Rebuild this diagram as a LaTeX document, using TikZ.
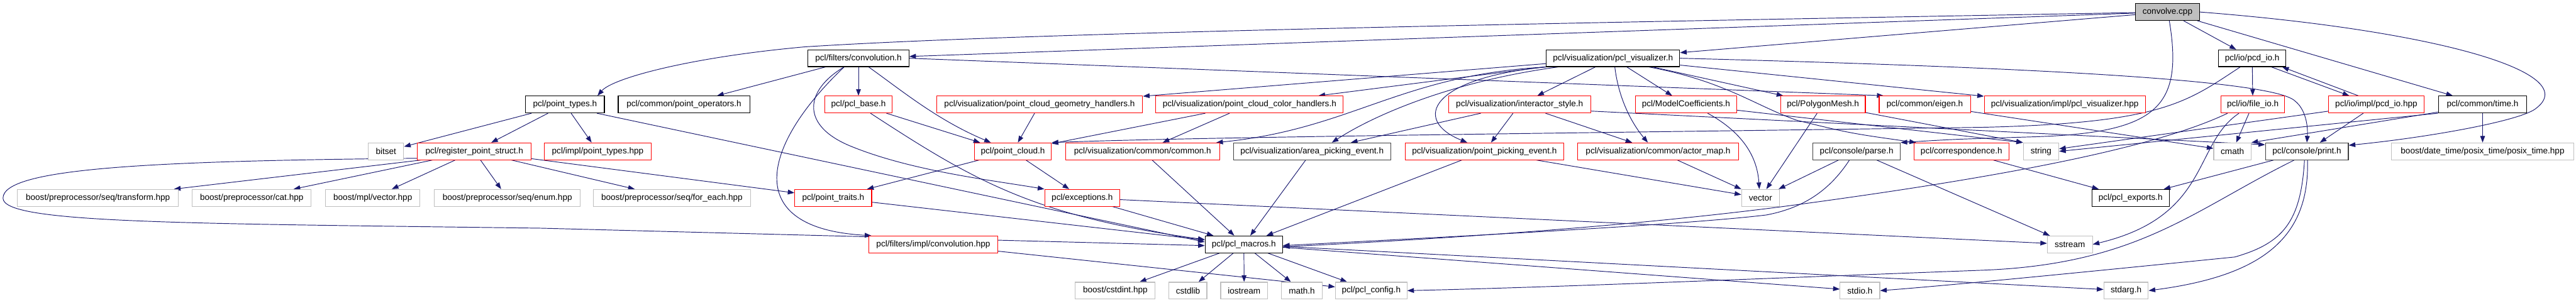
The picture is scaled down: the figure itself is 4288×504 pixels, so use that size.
\documentclass[tikz,border=0pt]{standalone}
\usepackage{fontspec}
\setmainfont{Liberation Sans}
\usetikzlibrary{arrows.meta, backgrounds}

\definecolor{edgeblue}{HTML}{191970}
\definecolor{extgray}{HTML}{BFBFBF}

\begin{document}
\begin{tikzpicture}[
    x=1pt, y=-1pt,
    hdr/.style={rectangle, draw, fill=white, line width=1.2pt, inner sep=0pt, minimum height=28pt, font=\fontsize{14.2pt}{16pt}\selectfont},
    mainhdr/.style={hdr, draw=black, fill=extgray},
    dochdr/.style={hdr, draw=black},
    greyhdr/.style={hdr, draw=black!75},
    cuthdr/.style={hdr, draw=red},
    exthdr/.style={hdr, draw=extgray},
    dep/.style={draw=edgeblue, line width=1pt, -{Triangle[length=11pt, width=8pt]}}
]
\useasboundingbox (0,0) rectangle (4288,504);

% Top
\node[mainhdr, minimum width=106pt] (cpp) at (3608,20) {convolve.cpp};

% Row 1
\node[dochdr, minimum width=168pt] (conv) at (1429,97) {pcl/filters/convolution.h};
\node[dochdr, minimum width=222pt] (viz) at (2685,97) {pcl/visualization/pcl\_visualizer.h};
\node[dochdr, minimum width=112pt] (pcdio) at (3749,97) {pcl/io/pcd\_io.h};

% Row 2
\node[dochdr, minimum width=131pt] (ptypes) at (940.5,174) {pcl/point\_types.h};
\node[dochdr, minimum width=219pt] (ptops) at (1138.5,174) {pcl/common/point\_operators.h};
\node[cuthdr, minimum width=112pt] (base) at (1429,174) {pcl/pcl\_base.h};
\node[cuthdr, minimum width=343pt] (geom) at (1730.5,174) {pcl/visualization/point\_cloud\_geometry\_handlers.h};
\node[cuthdr, minimum width=312pt] (color) at (2080,174) {pcl/visualization/point\_cloud\_color\_handlers.h};
\node[cuthdr, minimum width=237pt] (istyle) at (2529.5,174) {pcl/visualization/interactor\_style.h};
\node[cuthdr, minimum width=169pt] (mcoef) at (2806.5,174) {pcl/ModelCoefficients.h};
\node[cuthdr, minimum width=141pt] (pmesh) at (3034.5,174) {pcl/PolygonMesh.h};
\node[cuthdr, minimum width=152pt] (eigen) at (3204,174) {pcl/common/eigen.h};
\node[cuthdr, minimum width=268pt] (vizhpp) at (3437,174) {pcl/visualization/impl/pcl\_visualizer.hpp};
\node[cuthdr, minimum width=106pt] (fileio) at (3750,174) {pcl/io/file\_io.h};
\node[cuthdr, minimum width=159pt] (pcdhpp) at (3955.5,174) {pcl/io/impl/pcd\_io.hpp};
\node[dochdr, minimum width=147pt] (timeh) at (4132.5,174) {pcl/common/time.h};

% Row 3
\node[exthdr, minimum width=59pt] (bitset) at (642.5,252) {bitset};
\node[cuthdr, minimum width=189pt] (regps) at (789.5,252) {pcl/register\_point\_struct.h};
\node[cuthdr, minimum width=178pt] (iptypes) at (995,252) {pcl/impl/point\_types.hpp};
\node[cuthdr, minimum width=128pt] (pcloud) at (1686,252) {pcl/point\_cloud.h};
\node[cuthdr, minimum width=256pt] (common) at (1902,252) {pcl/visualization/common/common.h};
\node[greyhdr, minimum width=262pt] (apick) at (2184,252) {pcl/visualization/area\_picking\_event.h};
\node[cuthdr, minimum width=264pt] (ppick) at (2471,252) {pcl/visualization/point\_picking\_event.h};
\node[cuthdr, minimum width=268pt] (amap) at (2760,252) {pcl/visualization/common/actor\_map.h};
\node[greyhdr, minimum width=145pt] (parse) at (3090.5,252) {pcl/console/parse.h};
\node[cuthdr, minimum width=158pt] (corr) at (3265,252) {pcl/correspondence.h};
\node[exthdr, minimum width=59pt] (string) at (3397.5,252) {string};
\node[exthdr, minimum width=62pt] (cmath) at (3716,252) {cmath};
\node[greyhdr, minimum width=138pt] (print) at (3840,252) {pcl/console/print.h};
\node[exthdr, minimum width=303pt] (posix) at (4132.5,252) {boost/date\_time/posix\_time/posix\_time.hpp};

% Row 4
\node[exthdr, minimum width=268pt] (transform) at (163,329.5) {boost/preprocessor/seq/transform.hpp};
\node[exthdr, minimum width=198pt] (cat) at (419,329.5) {boost/preprocessor/cat.hpp};
\node[exthdr, minimum width=157pt] (mplvec) at (620.5,329.5) {boost/mpl/vector.hpp};
\node[exthdr, minimum width=243pt] (penum) at (844.5,329.5) {boost/preprocessor/seq/enum.hpp};
\node[exthdr, minimum width=261pt] (foreach) at (1118.5,329.5) {boost/preprocessor/seq/for\_each.hpp};
\node[cuthdr, minimum width=128pt] (ptraits) at (1387,329.5) {pcl/point\_traits.h};
\node[cuthdr, minimum width=125pt] (except) at (1801.5,329.5) {pcl/exceptions.h};
\node[exthdr, minimum width=63pt] (vector) at (2930.5,329.5) {vector};
\node[dochdr, minimum width=129pt] (exports) at (3546.5,329.5) {pcl/pcl\_exports.h};

% Row 5
\node[cuthdr, minimum width=215pt] (convhpp) at (1553.5,407) {pcl/filters/impl/convolution.hpp};
\node[dochdr, minimum width=129pt] (macros) at (2070.5,407) {pcl/pcl\_macros.h};
\node[exthdr, minimum width=75pt] (sstream) at (3445.5,407) {sstream};

% Row 6
\node[exthdr, minimum width=133pt] (cstdint) at (1856.5,484) {boost/cstdint.hpp};
\node[exthdr, minimum width=63pt] (cstdlib) at (1977.5,484) {cstdlib};
\node[exthdr, minimum width=78pt] (iostream) at (2071,484) {iostream};
\node[exthdr, minimum width=68pt] (mathh) at (2167,484) {math.h};
\node[exthdr, minimum width=119pt] (config) at (2282.5,484) {pcl/pcl\_config.h};
\node[exthdr, minimum width=66pt] (stdio) at (3096,484) {stdio.h};
\node[exthdr, minimum width=74pt] (stdarg) at (3539,484) {stdarg.h};

\begin{scope}[on background layer]
\fill[white] (0,0) rectangle (4288,504);

% convolve.cpp
\draw[dep] (cpp) -- (conv);
\draw[dep] (cpp) -- (viz);
\draw[dep] (cpp) .. controls (2500,40) and (1700,55) .. (1340,78) .. controls (1150,95) and (1020,130) .. ([xshift=-12pt]ptypes.north east);
\draw[dep] ([xshift=3pt]cpp.south) .. controls (3635,180) and (3590,222) .. (3380,228) .. controls (3250,232) .. (parse.north east);
\draw[dep] (cpp) -- (pcdio);
\draw[dep] (cpp) -- (timeh);
\draw[dep] (cpp.east) .. controls (4050,50) and (4300,120) .. (4222,180) .. controls (4200,200) and (4050,228) .. ([yshift=10pt]print.east);

% convolution.h
\draw[dep] (conv) -- (ptops);
\draw[dep] (conv) -- (base);
\draw[dep] ([xshift=17pt]conv.south) .. controls (1500,150) and (1560,200) .. ([xshift=28pt]pcloud.north west);
\draw[dep] ([xshift=-24pt]conv.south) .. controls (1340,150) and (1330,210) .. (1420,245) .. controls (1520,285) and (1650,300) .. (except.north west);
\draw[dep] ([xshift=-24pt]conv.south) .. controls (1270,240) and (1230,380) .. ([xshift=5pt]convhpp.north west);
\draw[dep] (conv.east) -- ([xshift=8pt]eigen.north west);

% point_types.h
\draw[dep] (ptypes) -- (bitset);
\draw[dep] (ptypes) -- (regps);
\draw[dep] (ptypes) -- (iptypes);
\draw[dep] ([xshift=-13pt]ptypes.south east) -- ([yshift=4pt]macros.west);

% register_point_struct.h
\draw[dep] ([xshift=6pt]regps.south west) -- ([xshift=-8pt]transform.north east);
\draw[dep] (regps) -- (cat);
\draw[dep] (regps) -- (mplvec);
\draw[dep] (regps) -- (penum);
\draw[dep] (regps) -- (foreach);
\draw[dep] (regps) -- (ptraits);
\draw[dep] ([yshift=3pt]regps.south west) .. controls (250,268) and (5,280) .. (5,330) .. controls (5,372) and (300,372) .. (900,380) -- ([yshift=-2pt]macros.west);

% pcl_base.h, point_cloud.h and below
\draw[dep] (base) -- ([xshift=10pt]pcloud.north west);
\draw[dep] ([xshift=20pt]base.south) .. controls (1620,300) and (1720,360) .. ([yshift=8pt]macros.west);
\draw[dep] (pcloud) -- (except);
\draw[dep] (pcloud) -- (ptraits);
\draw[dep] (ptraits) -- (macros);
\draw[dep] (convhpp) -- (config);
\draw[dep] (except) -- (macros);
\draw[dep] (except) -- (sstream);
\draw[dep] (common) -- (macros);
\draw[dep] (geom) -- (pcloud);
\draw[dep] (color) -- (pcloud);
\draw[dep] (color) -- (common);

% pcl_visualizer.h
\draw[dep] (viz) -- (geom);
\draw[dep] (viz) -- (color);
\draw[dep] (viz.south west) .. controls (2330,125) and (2250,215) .. ([xshift=-6pt]common.north east);
\draw[dep] ([xshift=20pt]viz.south west) .. controls (2420,135) and (2290,190) .. ([xshift=33pt]apick.north);
\draw[dep] (viz.south west) .. controls (2380,130) and (2350,200) .. ([xshift=104pt]ppick.north west);
\draw[dep] (viz) -- (istyle);
\draw[dep] (viz) -- (mcoef);
\draw[dep] ([xshift=3pt]viz.south) .. controls (2695,170) and (2720,210) .. ([xshift=-17pt]amap.north);
\draw[dep] (viz) -- (pmesh);
\draw[dep] ([xshift=60pt]viz.south) .. controls (2870,135) and (2920,175) .. (2990,200) .. controls (3080,222) .. ([xshift=4pt]corr.north west);
\draw[dep] (viz) -- (vizhpp);
\draw[dep] (viz.east) .. controls (3300,110) and (3780,130) .. (3820,168) .. controls (3838,182) and (3842,210) .. (print.north);

% interactor_style.h
\draw[dep] (istyle) -- (apick);
\draw[dep] (istyle) -- (ppick);
\draw[dep] (istyle) -- (amap);
\draw[dep] ([yshift=-11pt]istyle.east) -- ([yshift=11pt]print.west);

% row 2 and row 3 headers
\draw[dep] ([xshift=36pt]mcoef.south) .. controls (2900,220) and (2925,260) .. ([xshift=-2pt]vector.north);
\draw[dep] (mcoef) -- (string.north west);
\draw[dep] (pmesh) -- (vector);
\draw[dep] (pmesh) -- (string.north west);
\draw[dep] (eigen) -- (cmath);
\draw[dep] (amap) -- (vector);
\draw[dep] (ppick) -- (vector);
\draw[dep] (ppick) -- (macros);
\draw[dep] (apick) -- (macros);

% parse.h, correspondence.h
\draw[dep] (parse) -- (vector);
\draw[dep] ([xshift=-12pt]parse.south) .. controls (3050,310) and (3010,345) .. (2940,358) .. controls (2800,375) and (2400,395) .. ([yshift=-2pt]macros.east);
\draw[dep] (parse) -- (sstream);
\draw[dep] (corr) -- (exports);

% file_io.h
\draw[dep] (fileio) -- (cmath);
\draw[dep] ([xshift=-23pt]fileio.south) .. controls (3650,240) and (3680,360) .. (sstream.east);
\draw[dep] ([xshift=-42pt]fileio.south) .. controls (3580,250) and (3300,300) .. (2960,345) .. controls (2700,378) and (2400,398) .. ([yshift=-4pt]macros.east);

% pcd_io.h, pcd_io.hpp
\draw[dep] (pcdio) -- (fileio);
\draw[dep] ([xshift=32pt]pcdio.south) -- ([xshift=-45pt]pcdhpp.north);
\draw[dep] ([xshift=-20pt]pcdio.south) .. controls (3640,170) and (3600,205) .. (3300,212) .. controls (2600,222) and (2000,228) .. (pcloud.north east);
\draw[dep] ([xshift=-30pt]pcdhpp.north) -- ([xshift=50pt]pcdio.south);
\draw[dep] (pcdhpp) -- (print);
\draw[dep] (pcdhpp) -- (string);

% time.h
\draw[dep] (timeh.south west) -- (string.east);
\draw[dep] ([yshift=2pt]timeh.south west) -- (cmath.north east);
\draw[dep] (timeh) -- (posix);

% print.h
\draw[dep] (print) -- (exports);
\draw[dep] ([xshift=-21pt]print.south) .. controls (3650,350) and (3560,440) .. (3300,450) .. controls (2900,465) and (2600,478) .. (config.east);
\draw[dep] ([xshift=-4pt]print.south) .. controls (3830,370) and (3800,405) .. (3720,428) .. controls (3500,450) and (3250,475) .. (stdio.east);
\draw[dep] ([xshift=1pt]print.south) .. controls (3845,400) and (3760,460) .. (stdarg.east);

% pcl_macros.h
\draw[dep] (macros) -- (cstdint);
\draw[dep] (macros) -- (cstdlib);
\draw[dep] (macros) -- (iostream);
\draw[dep] (macros) -- (mathh);
\draw[dep] (macros) -- (config);
\draw[dep] (macros) -- (stdio);
\draw[dep] (macros) -- (stdarg);
\end{scope}

\end{tikzpicture}
\end{document}
